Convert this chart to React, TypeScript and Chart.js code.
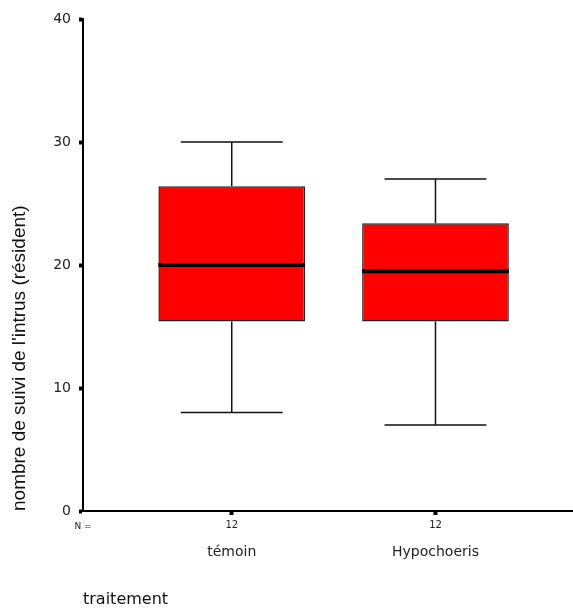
import React, { useEffect, useRef } from "react";
import { Chart, registerables } from "chart.js";

Chart.register(...registerables);

const categories = ["témoin", "Hypochoeris"];
const nCounts = [12, 12];
const whiskerLow = [8, 7];
const q1 = [15.4, 15.4];
const medians = [20, 19.5];
const q3 = [26.4, 23.4];
const whiskerHigh = [30, 27];
const yTicks = [0, 10, 20, 30, 40];

const FONT = "'DejaVu Sans', Verdana, sans-serif";

const boxPlugin = {
  id: "boxParts",
  beforeDatasetsDraw(chart: any) {
    const { ctx, scales } = chart;
    const xs = scales.x;
    const ys = scales.y;
    ctx.save();
    ctx.strokeStyle = "#111";
    ctx.lineWidth = 1.5;
    categories.forEach((_, i) => {
      const x = xs.getPixelForValue(i + 1);
      const half = Math.abs(xs.getPixelForValue(i + 1.25) - x);
      const yLo = ys.getPixelForValue(whiskerLow[i]);
      const yHi = ys.getPixelForValue(whiskerHigh[i]);
      const yQ1 = ys.getPixelForValue(q1[i]);
      const yQ3 = ys.getPixelForValue(q3[i]);
      ctx.beginPath();
      ctx.moveTo(x, yLo);
      ctx.lineTo(x, yQ1);
      ctx.moveTo(x, yQ3);
      ctx.lineTo(x, yHi);
      ctx.moveTo(x - half, yLo);
      ctx.lineTo(x + half, yLo);
      ctx.moveTo(x - half, yHi);
      ctx.lineTo(x + half, yHi);
      ctx.stroke();
    });
    ctx.restore();
  },
  afterDatasetsDraw(chart: any) {
    const { ctx, scales } = chart;
    const ys = scales.y;
    const meta = chart.getDatasetMeta(0);
    ctx.save();
    ctx.strokeStyle = "#000";
    ctx.lineWidth = 4;
    meta.data.forEach((bar: any, i: number) => {
      const y = ys.getPixelForValue(medians[i]);
      ctx.beginPath();
      ctx.moveTo(bar.x - bar.width / 2, y);
      ctx.lineTo(bar.x + bar.width / 2, y);
      ctx.stroke();
    });
    ctx.restore();
  },
  afterDraw(chart: any) {
    const { ctx, scales, chartArea } = chart;
    const xs = scales.x;
    ctx.save();
    ctx.fillStyle = "#222";
    ctx.textAlign = "center";
    ctx.textBaseline = "middle";
    ctx.font = `9px ${FONT}`;
    ctx.fillText("N =", chartArea.left, chartArea.bottom + 16);
    ctx.font = `14px ${FONT}`;
    categories.forEach((c, i) => {
      ctx.fillText(c, xs.getPixelForValue(i + 1), chartArea.bottom + 41);
    });
    ctx.restore();
  },
};

export default function App() {
  const ref = useRef<HTMLCanvasElement>(null);
  useEffect(() => {
    if (!ref.current) return;
    const chart = new Chart(ref.current, {
      type: "bar",
      data: {
        datasets: [
          {
            data: categories.map((_, i) => ({ x: i + 1, y: [q1[i], q3[i]] })) as any,
            backgroundColor: "#ff0000",
            borderColor: "#222",
            borderWidth: 1.5,
            borderSkipped: false,
            categoryPercentage: 1,
            barPercentage: 0.72,
          },
        ],
      },
      options: {
        animation: false,
        responsive: false,
        devicePixelRatio: 1,
        layout: { padding: { top: 19, right: 1, left: 0, bottom: 0 } },
        plugins: { legend: { display: false }, tooltip: { enabled: false } },
        scales: {
          x: {
            type: "linear",
            min: 0.27,
            max: 2.67,
            offset: false,
            afterFit: (s: any) => {
              s.height = 101;
            },
            afterBuildTicks: (s: any) => {
              s.ticks = categories.map((_, i) => ({ value: i + 1 }));
            },
            grid: {
              offset: false,
              drawOnChartArea: false,
              drawTicks: true,
              tickLength: 4,
              tickWidth: 4,
              tickColor: "#000",
            },
            border: { display: true, color: "#000", width: 2 },
            ticks: {
              autoSkip: false,
              maxRotation: 0,
              padding: 4,
              color: "#222",
              font: { family: FONT, size: 10 },
              callback: (v: any) => {
                const idx = Math.round(Number(v)) - 1;
                return idx >= 0 && idx < nCounts.length ? String(nCounts[idx]) : "";
              },
            },
            title: {
              display: true,
              text: "traitement",
              align: "start",
              color: "#111",
              font: { family: FONT, size: 16 },
              padding: { top: 0, bottom: 3 },
            },
          },
          y: {
            min: 0,
            max: 40,
            afterFit: (s: any) => {
              s.width = 83;
            },
            afterBuildTicks: (s: any) => {
              s.ticks = yTicks.map((v) => ({ value: v }));
            },
            grid: {
              drawOnChartArea: false,
              drawTicks: true,
              tickLength: 4,
              tickWidth: 4,
              tickColor: "#000",
            },
            border: { display: true, color: "#000", width: 2 },
            ticks: {
              padding: 8,
              color: "#222",
              font: { family: FONT, size: 14 },
            },
            title: {
              display: true,
              text: "nombre de suivi de l'intrus (résident)",
              align: "start",
              color: "#111",
              font: { family: "'Liberation Sans', Arial, sans-serif", size: 19 },
              padding: { top: 8, bottom: 0 },
            },
          },
        },
      },
      plugins: [boxPlugin],
    } as any);
    return () => chart.destroy();
  }, []);
  return (
    <canvas
      ref={ref}
      width={573}
      height={612}
      style={{ position: "fixed", left: 0, top: 0, width: 573, height: 612 }}
    />
  );
}
